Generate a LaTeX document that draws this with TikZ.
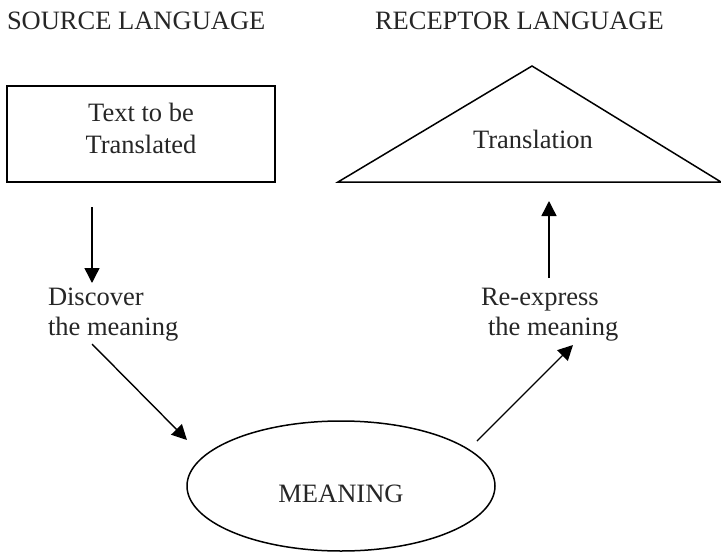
\documentclass[tikz,border=0pt]{standalone}
\usepackage{fontspec}
\setmainfont{Liberation Serif}
\usetikzlibrary{arrows.meta,shapes.geometric}
\begin{document}
\begin{tikzpicture}[x=1pt,y=-1pt,
  lbl/.style={inner sep=0pt,outer sep=0pt,font=\fontsize{26.5pt}{32pt}\selectfont,text=black!85},
  shapeline/.style={draw=black,line width=1.5pt},
  arr/.style={draw=black,line width=1.4pt,-{Triangle[length=15pt,width=15pt]}}]
\useasboundingbox (0,0) rectangle (721,552);
% headings
\node[lbl,anchor=base west] (srclang) at (7,29) {SOURCE LANGUAGE};
\node[lbl,anchor=base west] (reclang) at (375,29) {RECEPTOR LANGUAGE};
% source box
\node[shapeline,rectangle,minimum width=268pt,minimum height=96pt,inner sep=0pt] (src) at (141,134) {};
\node[lbl,anchor=base] (srct1) at (141,121) {Text to be};
\node[lbl,anchor=base] (srct2) at (141,153) {Translated};
% receptor triangle
\coordinate (tapex) at (532,66);
\coordinate (tleft) at (338,182);
\coordinate (tright) at (721,182);
\draw[shapeline,line join=miter] (tleft) -- (tapex) -- (tright) -- cycle;
\node[lbl,anchor=base] (trans) at (533,148) {Translation};
% side labels
\node[lbl,anchor=base west] (disc1) at (48,305) {Discover};
\node[lbl,anchor=base west] (disc2) at (48,335) {the meaning};
\node[lbl,anchor=base west] (reex1) at (481,305) {Re-express};
\node[lbl,anchor=base west] (reex2) at (488,335) {the meaning};
% meaning ellipse
\node[shapeline,ellipse,minimum width=308pt,minimum height=130pt,inner sep=0pt] (mean) at (341,486) {};
\node[lbl,anchor=base] (meantxt) at (341,502) {MEANING};
% arrow end points
\coordinate (a1s) at (92,207);
\coordinate (a1e) at (92,283);
\coordinate (a2s) at (92,344);
\coordinate (a2e) at (187,440);
\coordinate (a3s) at (477,441);
\coordinate (a3e) at (573,345);
\coordinate (a4s) at (549,278);
\coordinate (a4e) at (549,201);
\draw[arr] (a1s) -- (a1e);
\draw[arr] (a2s) -- (a2e);
\draw[arr] (a3s) -- (a3e);
\draw[arr] (a4s) -- (a4e);
\end{tikzpicture}
\end{document}
